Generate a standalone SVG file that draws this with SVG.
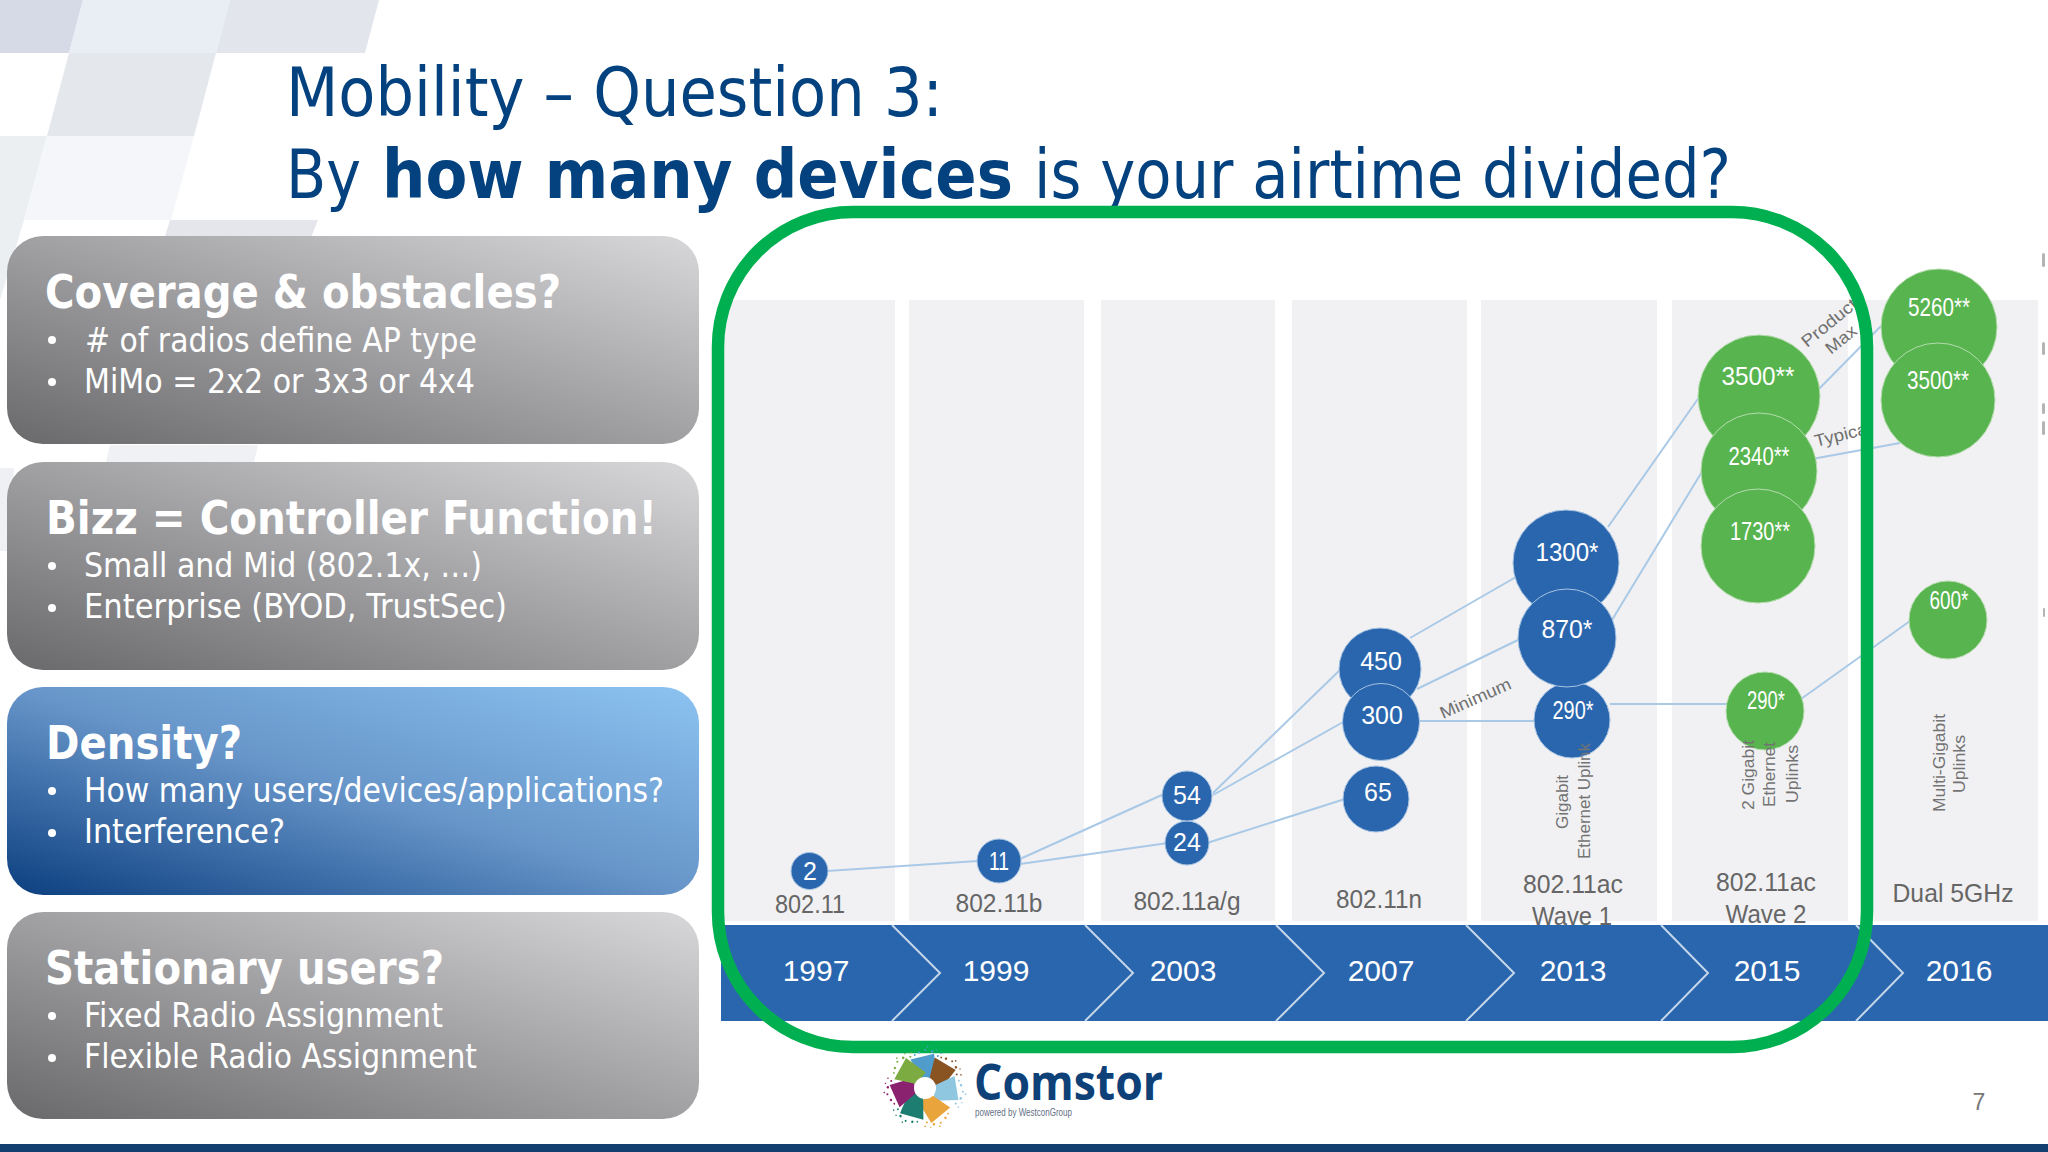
<svg xmlns="http://www.w3.org/2000/svg" xmlns:xlink="http://www.w3.org/1999/xlink" width="2048" height="1152" viewBox="0 0 2048 1152">
<defs>
<linearGradient id="gGray" x1="0" y1="1" x2="1" y2="0"><stop offset="0" stop-color="#69696c"/><stop offset="0.5" stop-color="#a0a0a3"/><stop offset="1" stop-color="#d8d8db"/></linearGradient>
<linearGradient id="gBlue" x1="0" y1="1" x2="1" y2="0"><stop offset="0" stop-color="#0c3f80"/><stop offset="0.5" stop-color="#6795c9"/><stop offset="1" stop-color="#8cc3f1"/></linearGradient>
<filter id="soft" x="-10%" y="-10%" width="120%" height="120%"><feGaussianBlur stdDeviation="0.7"/></filter>
<path id="petal" d="M-4 -9 L-17 -27 L6 -35 L11 -11 Z"/>
<g id="specks"><circle cx="-9" cy="-35" r="1.2"/><circle cx="-3" cy="-38" r="1"/><circle cx="4" cy="-37" r="1.3"/><circle cx="10" cy="-33" r="1"/><circle cx="13" cy="-36" r="0.8"/><circle cx="-1" cy="-41" r="0.8"/><circle cx="-13" cy="-32" r="0.9"/><circle cx="8" cy="-39" r="0.7"/></g>
</defs>
<style>
text{font-family:"Liberation Sans",Arial,sans-serif}
.col{fill:#f1f1f3}
.ttl{font-family:"DejaVu Sans",sans-serif;font-stretch:condensed;font-size:68px;fill:#03427f}
.ttb{font-weight:700}
.hd{font-family:"DejaVu Sans",sans-serif;font-stretch:condensed;font-size:46px;font-weight:700;fill:#fff}
.bl{font-family:"DejaVu Sans",sans-serif;font-stretch:condensed;font-size:34px;fill:#fff}
.lnk{stroke:#a9c9e6;stroke-width:2;fill:none}
.blue{fill:#2a66ae;stroke:#a6c3e2;stroke-width:1}
.green{fill:#57b44e;stroke:#b5dcae;stroke-width:1}
.ct{font-size:25px;fill:#fff;text-anchor:middle}
.std{font-size:25px;fill:#666;text-anchor:middle}
.yr{font-size:30px;fill:#fff;text-anchor:middle}
.sm{font-size:16px;fill:#737373}
.ang{font-size:17px;fill:#707070}
.chev{stroke:#c4d6ea;stroke-width:2;fill:none}
</style>
<rect width="2048" height="1152" fill="#fff"/>
<g id="background">
<polygon points="0,0 83,0 69,53 0,53" fill="#d6dae6"/>
<polygon points="83,0 230,0 216,53 69,53" fill="#e9eef5"/>
<polygon points="230,0 379,0 365,53 216,53" fill="#e2e6ec"/>
<polygon points="69,53 216,53 194,136 47,136" fill="#e4e7ec"/>
<polygon points="0,136 47,136 24,220 0,300" fill="#eceff1"/>
<polygon points="47,136 194,136 171,220 24,220" fill="#f4f6f9"/>
<polygon points="170,220 318,220 310,240 164,240" fill="#e4e6eb"/>
<polygon points="110,445 258,445 254,462 106,462" fill="#eff1f4"/>
<polygon points="0,468 14,468 7,551 0,551" fill="#eef0f3"/>
</g>
<g id="title">
<text class="ttl" x="286" y="116" textLength="657" lengthAdjust="spacingAndGlyphs">Mobility – Question 3:</text>
<text class="ttl" x="286" y="198" textLength="75" lengthAdjust="spacingAndGlyphs">By</text>
<text class="ttl ttb" x="382" y="198" textLength="631" lengthAdjust="spacingAndGlyphs">how many devices</text>
<text class="ttl" x="1034" y="198" textLength="697" lengthAdjust="spacingAndGlyphs">is your airtime divided?</text>
</g>
<g id="card-coverage">
<rect x="7" y="236" width="692" height="208" rx="36" fill="url(#gGray)"/>
<text class="hd" x="45" y="308" textLength="516" lengthAdjust="spacingAndGlyphs">Coverage &amp; obstacles?</text>
<circle cx="52" cy="340" r="4" fill="#fff"/><text class="bl" x="85" y="352" textLength="392" lengthAdjust="spacingAndGlyphs"># of radios define AP type</text>
<circle cx="52" cy="382" r="4" fill="#fff"/><text class="bl" x="84" y="393" textLength="391" lengthAdjust="spacingAndGlyphs">MiMo = 2x2 or 3x3 or 4x4</text>
</g>
<g id="card-bizz">
<rect x="7" y="462" width="692" height="208" rx="36" fill="url(#gGray)"/>
<text class="hd" x="46" y="534" textLength="611" lengthAdjust="spacingAndGlyphs">Bizz = Controller Function!</text>
<circle cx="52" cy="566" r="4" fill="#fff"/><text class="bl" x="84" y="577" textLength="398" lengthAdjust="spacingAndGlyphs">Small and Mid (802.1x, …)</text>
<circle cx="52" cy="608" r="4" fill="#fff"/><text class="bl" x="84" y="618" textLength="423" lengthAdjust="spacingAndGlyphs">Enterprise (BYOD, TrustSec)</text>
</g>
<g id="card-density">
<rect x="7" y="687" width="692" height="208" rx="36" fill="url(#gBlue)"/>
<text class="hd" x="46" y="759" textLength="196" lengthAdjust="spacingAndGlyphs">Density?</text>
<circle cx="52" cy="791" r="4" fill="#fff"/><text class="bl" x="84" y="802" textLength="580" lengthAdjust="spacingAndGlyphs">How many users/devices/applications?</text>
<circle cx="52" cy="833" r="4" fill="#fff"/><text class="bl" x="84" y="843" textLength="201" lengthAdjust="spacingAndGlyphs">Interference?</text>
</g>
<g id="card-stationary">
<rect x="7" y="912" width="692" height="207" rx="36" fill="url(#gGray)"/>
<text class="hd" x="45" y="984" textLength="399" lengthAdjust="spacingAndGlyphs">Stationary users?</text>
<circle cx="52" cy="1016" r="4" fill="#fff"/><text class="bl" x="84" y="1027" textLength="359" lengthAdjust="spacingAndGlyphs">Fixed Radio Assignment</text>
<circle cx="52" cy="1058" r="4" fill="#fff"/><text class="bl" x="84" y="1068" textLength="393" lengthAdjust="spacingAndGlyphs">Flexible Radio Assignment</text>
</g>
<g id="columns">
<rect class="col" x="723" y="300" width="172" height="621"/>
<rect class="col" x="909" y="300" width="175" height="621"/>
<rect class="col" x="1101" y="300" width="174" height="621"/>
<rect class="col" x="1292" y="300" width="175" height="621"/>
<rect class="col" x="1481" y="300" width="176" height="621"/>
<rect class="col" x="1672" y="300" width="176" height="621"/>
<rect class="col" x="1865" y="300" width="173" height="621"/>
</g>
<g id="edge-marks" fill="#b4b4b4">
<rect x="2042" y="253" width="3" height="14" rx="1.5"/><rect x="2042" y="342" width="3" height="13" rx="1.5"/><rect x="2042" y="403" width="3" height="11" rx="1.5"/><rect x="2042" y="421" width="3" height="14" rx="1.5"/><rect x="2043" y="608" width="2" height="9" rx="1"/>
</g>
<g id="connectors">
<line class="lnk" x1="827" y1="871" x2="978" y2="861"/>
<line class="lnk" x1="1020" y1="859" x2="1164" y2="794"/>
<line class="lnk" x1="1020" y1="864" x2="1168" y2="843"/>
<line class="lnk" x1="1213" y1="793" x2="1341" y2="669"/>
<line class="lnk" x1="1213" y1="795" x2="1345" y2="721"/>
<line class="lnk" x1="1207" y1="843" x2="1345" y2="799"/>
<line class="lnk" x1="1410" y1="638" x2="1516" y2="577"/>
<line class="lnk" x1="1417" y1="689" x2="1520" y2="639"/>
<line class="lnk" x1="1418" y1="721" x2="1537" y2="721"/>
<line class="lnk" x1="1608" y1="527" x2="1700" y2="396"/>
<line class="lnk" x1="1612" y1="620" x2="1703" y2="470"/>
<line class="lnk" x1="1610" y1="704" x2="1729" y2="704"/>
<line class="lnk" x1="1801" y1="699" x2="1910" y2="621"/>
<line class="lnk" x1="1813" y1="395" x2="1881" y2="326"/>
<line class="lnk" x1="1812" y1="459" x2="1900" y2="443"/>
</g>
<g id="node-2"><circle class="blue" cx="809.5" cy="871" r="18.5"/><text class="ct" x="810" y="880">2</text></g>
<g id="node-11"><circle class="blue" cx="999" cy="861" r="22"/><text class="ct" x="999" y="870" textLength="20" lengthAdjust="spacingAndGlyphs">11</text></g>
<g id="node-24"><circle class="blue" cx="1187" cy="843" r="22"/><text class="ct" x="1187" y="851">24</text></g>
<g id="node-54"><circle class="blue" cx="1187" cy="796" r="25"/><text class="ct" x="1187" y="804">54</text></g>
<g id="node-450"><circle class="blue" cx="1380" cy="669" r="41"/><text class="ct" x="1381" y="670">450</text></g>
<g id="node-300"><circle class="blue" cx="1381" cy="722" r="38.5"/><text class="ct" x="1382" y="724">300</text></g>
<g id="node-65"><circle class="blue" cx="1376" cy="799" r="33"/><text class="ct" x="1378" y="801">65</text></g>
<g id="node-1300"><circle class="blue" cx="1566" cy="563" r="53"/><text class="ct" x="1567" y="561" textLength="63" lengthAdjust="spacingAndGlyphs">1300*</text></g>
<g id="node-290a"><circle class="blue" cx="1572" cy="720" r="38"/><text class="ct" x="1573" y="719" textLength="41" lengthAdjust="spacingAndGlyphs">290*</text></g>
<g id="node-870"><circle class="blue" cx="1567" cy="638" r="49"/><text class="ct" x="1567" y="638" textLength="51" lengthAdjust="spacingAndGlyphs">870*</text></g>
<g id="node-3500a"><circle class="green" cx="1759" cy="396" r="61"/><text class="ct" x="1758" y="385" textLength="73" lengthAdjust="spacingAndGlyphs">3500**</text></g>
<g id="node-2340"><circle class="green" cx="1759" cy="471" r="58"/><text class="ct" x="1759" y="465" textLength="61" lengthAdjust="spacingAndGlyphs">2340**</text></g>
<g id="node-1730"><circle class="green" cx="1758" cy="546" r="57"/><text class="ct" x="1760" y="540" textLength="60" lengthAdjust="spacingAndGlyphs">1730**</text></g>
<g id="node-290b"><circle class="green" cx="1765" cy="711" r="39"/><text class="ct" x="1766" y="709" textLength="38" lengthAdjust="spacingAndGlyphs">290*</text></g>
<g id="node-5260"><circle class="green" cx="1939" cy="327" r="58"/><text class="ct" x="1939" y="316" textLength="62" lengthAdjust="spacingAndGlyphs">5260**</text></g>
<g id="node-3500b"><circle class="green" cx="1938" cy="400" r="57"/><text class="ct" x="1938" y="389" textLength="62" lengthAdjust="spacingAndGlyphs">3500**</text></g>
<g id="node-600"><circle class="green" cx="1948" cy="620" r="39"/><text class="ct" x="1949" y="609" textLength="39" lengthAdjust="spacingAndGlyphs">600*</text></g>
<g id="chart-labels">
<text class="std" x="810" y="913" textLength="70" lengthAdjust="spacingAndGlyphs">802.11</text>
<text class="std" x="999" y="912" textLength="87" lengthAdjust="spacingAndGlyphs">802.11b</text>
<text class="std" x="1187" y="910" textLength="107" lengthAdjust="spacingAndGlyphs">802.11a/g</text>
<text class="std" x="1379" y="908" textLength="86" lengthAdjust="spacingAndGlyphs">802.11n</text>
<text class="std" x="1573" y="893" textLength="100" lengthAdjust="spacingAndGlyphs">802.11ac</text>
<text class="std" x="1572" y="925" textLength="80" lengthAdjust="spacingAndGlyphs">Wave 1</text>
<text class="std" x="1766" y="891" textLength="100" lengthAdjust="spacingAndGlyphs">802.11ac</text>
<text class="std" x="1766" y="923" textLength="81" lengthAdjust="spacingAndGlyphs">Wave 2</text>
<text class="std" x="1953" y="902" textLength="121" lengthAdjust="spacingAndGlyphs">Dual 5GHz</text>
<text class="sm" transform="translate(1568 829) rotate(-90)" textLength="54" lengthAdjust="spacingAndGlyphs">Gigabit</text>
<text class="sm" transform="translate(1590 859) rotate(-90)" textLength="116" lengthAdjust="spacingAndGlyphs">Ethernet Uplink</text>
<text class="sm" transform="translate(1754 810) rotate(-90)" textLength="70" lengthAdjust="spacingAndGlyphs">2 Gigabit</text>
<text class="sm" transform="translate(1775 807) rotate(-90)" textLength="65" lengthAdjust="spacingAndGlyphs">Ethernet</text>
<text class="sm" transform="translate(1798 803) rotate(-90)" textLength="58" lengthAdjust="spacingAndGlyphs">Uplinks</text>
<text class="sm" transform="translate(1945 812) rotate(-90)" textLength="98" lengthAdjust="spacingAndGlyphs">Multi-Gigabit</text>
<text class="sm" transform="translate(1965 793) rotate(-90)" textLength="58" lengthAdjust="spacingAndGlyphs">Uplinks</text>
<text class="ang" transform="translate(1443 719) rotate(-24)" textLength="76" lengthAdjust="spacingAndGlyphs">Minimum</text>
<text class="ang" transform="translate(1807 348) rotate(-39)" textLength="66" lengthAdjust="spacingAndGlyphs">Product</text>
<text class="ang" transform="translate(1831 355) rotate(-39)" textLength="35" lengthAdjust="spacingAndGlyphs">Max</text>
<text class="ang" transform="translate(1816 447) rotate(-14)" textLength="58" lengthAdjust="spacingAndGlyphs">Typical</text>
</g>
<g id="timeline">
<rect x="721" y="925" width="1327" height="96" fill="#2a66ae"/>
<polyline class="chev" points="892,925 940,973 892,1021"/>
<polyline class="chev" points="1085,925 1133,973 1085,1021"/>
<polyline class="chev" points="1276,925 1324,973 1276,1021"/>
<polyline class="chev" points="1466,925 1514,973 1466,1021"/>
<polyline class="chev" points="1661,925 1708,973 1661,1021"/>
<polyline class="chev" points="1856,925 1903,973 1856,1021"/>
<text class="yr" x="816" y="981">1997</text>
<text class="yr" x="996" y="981">1999</text>
<text class="yr" x="1183" y="981">2003</text>
<text class="yr" x="1381" y="981">2007</text>
<text class="yr" x="1573" y="981">2013</text>
<text class="yr" x="1767" y="981">2015</text>
<text class="yr" x="1959" y="981">2016</text>
</g>
<g id="highlight"><rect x="718" y="212" width="1149" height="835" rx="135" fill="none" stroke="#00b050" stroke-width="12.5"/></g>
<g id="logo">
<g transform="translate(925 1088)" filter="url(#soft)">
<use xlink:href="#petal" href="#petal" fill="#4f9ccd" transform="rotate(5)"/>
<use xlink:href="#petal" href="#petal" fill="#8a5224" transform="rotate(50)"/>
<use xlink:href="#petal" href="#petal" fill="#8fc6e0" transform="rotate(100)"/>
<use xlink:href="#petal" href="#petal" fill="#e9a43a" transform="rotate(160)"/>
<use xlink:href="#petal" href="#petal" fill="#1d7d70" transform="rotate(215)"/>
<use xlink:href="#petal" href="#petal" fill="#8b2070" transform="rotate(265)"/>
<use xlink:href="#petal" href="#petal" fill="#7cab42" transform="rotate(318)"/>
<use xlink:href="#specks" href="#specks" fill="#4f9ccd" transform="rotate(5)"/>
<use xlink:href="#specks" href="#specks" fill="#8a5224" transform="rotate(50)"/>
<use xlink:href="#specks" href="#specks" fill="#8fc6e0" transform="rotate(100)"/>
<use xlink:href="#specks" href="#specks" fill="#e9a43a" transform="rotate(160)"/>
<use xlink:href="#specks" href="#specks" fill="#1d7d70" transform="rotate(215)"/>
<use xlink:href="#specks" href="#specks" fill="#8b2070" transform="rotate(265)"/>
<use xlink:href="#specks" href="#specks" fill="#7cab42" transform="rotate(318)"/>
<circle r="11" fill="#fff"/>
</g>
<text x="974" y="1100" textLength="189" lengthAdjust="spacingAndGlyphs" style="font-family:'Open Sans',sans-serif;font-size:50px;font-weight:700;fill:#0d4178">Comstor</text>
<text x="975" y="1116" textLength="97" lengthAdjust="spacingAndGlyphs" style="font-size:10.5px;fill:#5f6f85">powered by WestconGroup</text>
</g>
<text id="page-number" x="1979" y="1110" text-anchor="middle" style="font-size:23px;fill:#777">7</text>
<rect id="footer-bar" x="0" y="1144" width="2048" height="8" fill="#123f70"/>
</svg>
